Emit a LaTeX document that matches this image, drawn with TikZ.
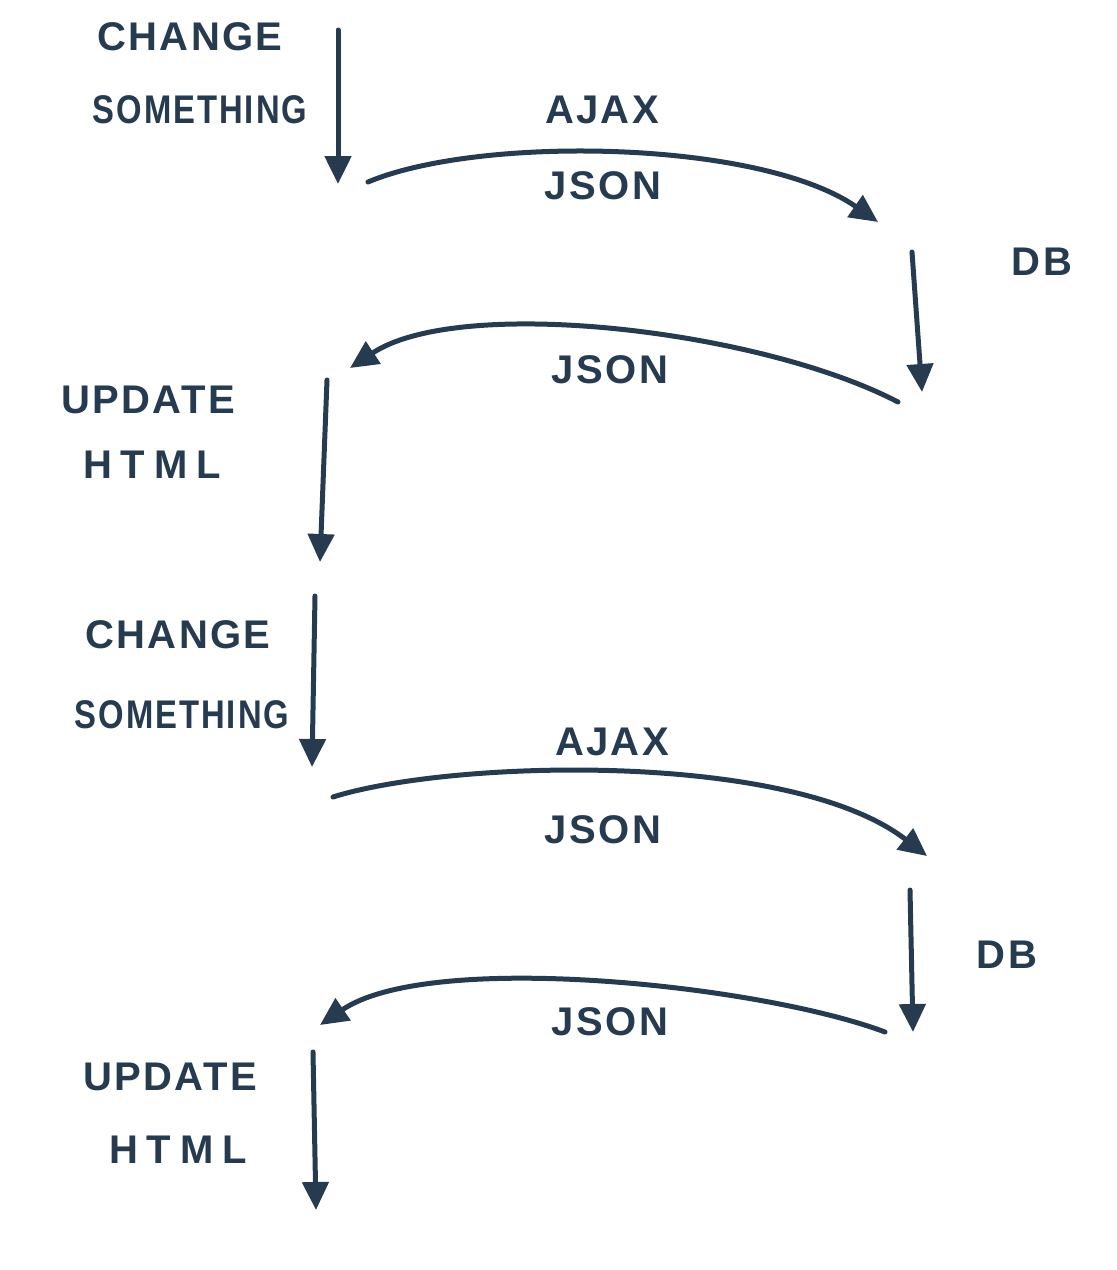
\documentclass[tikz,border=0pt]{standalone}
\usepackage{fontspec}
\setmainfont[LetterSpace=6]{Liberation Sans}
\usetikzlibrary{arrows.meta}
\definecolor{ink}{HTML}{263A50}
\tikzset{
  lbl/.style={text=ink, font=\bfseries\fontsize{40}{44}\selectfont, inner sep=0pt, anchor=center},
  narrow/.style={xscale=0.82},
  wide/.style={font=\bfseries\fontsize{40}{44}\selectfont\addfontfeatures{LetterSpace=22}},
  flow/.style={draw=ink, line width=5pt, line cap=round, -{Triangle[width=26pt,length=28pt]}},
}
\begin{document}
\begin{tikzpicture}[x=1pt,y=-1pt]
\useasboundingbox (0,0) rectangle (1117,1270);
% texts
\node[lbl] (c1) at (190,37) {CHANGE};
\node[lbl,narrow] (s1) at (200,110) {SOMETHING};
\node[lbl] (aj1) at (602,110) {AJAX};
\node[lbl] (js1) at (603,186) {JSON};
\node[lbl] (db1) at (1042,262) {DB};
\node[lbl] (js2) at (610,370) {JSON};
\node[lbl] (u1) at (148,400) {UPDATE};
\node[lbl,wide] (h1) at (152,465) {HTML};
\node[lbl] (c2) at (178,635) {CHANGE};
\node[lbl,narrow] (s2) at (182,715) {SOMETHING};
\node[lbl] (aj2) at (612,742) {AJAX};
\node[lbl] (js3) at (603,830) {JSON};
\node[lbl] (db2) at (1007,955) {DB};
\node[lbl] (js4) at (610,1022) {JSON};
\node[lbl] (u2) at (170,1077) {UPDATE};
\node[lbl,wide] (h2) at (178,1150) {HTML};
% end points
\coordinate (a1s) at (338,30);   \coordinate (a1e) at (338,184);
\coordinate (b1s) at (368,182);  \coordinate (b1e) at (878,222);
\coordinate (a2s) at (912,252);  \coordinate (a2e) at (922,392);
\coordinate (b2s) at (898,402);  \coordinate (b2e) at (350,368);
\coordinate (a3s) at (327,380);  \coordinate (a3e) at (320,562);
\coordinate (a4s) at (315,596);  \coordinate (a4e) at (312,767);
\coordinate (b3s) at (333,797);  \coordinate (b3e) at (927,856);
\coordinate (a5s) at (910,890);  \coordinate (a5e) at (913,1032);
\coordinate (b4s) at (885,1032); \coordinate (b4e) at (320,1025);
\coordinate (a6s) at (313,1052); \coordinate (a6e) at (316,1210);
% connectors
\draw[flow] (a1s) -- (a1e);
\draw[flow] (b1s) .. controls (480,135) and (760,140) .. (b1e);
\draw[flow] (a2s) -- (a2e);
\draw[flow] (b2s) .. controls (760,330) and (460,295) .. (b2e);
\draw[flow] (a3s) -- (a3e);
\draw[flow] (a4s) -- (a4e);
\draw[flow] (b3s) .. controls (450,760) and (790,750) .. (b3e);
\draw[flow] (a5s) -- (a5e);
\draw[flow] (b4s) .. controls (760,985) and (430,950) .. (b4e);
\draw[flow] (a6s) -- (a6e);
\end{tikzpicture}
\end{document}
